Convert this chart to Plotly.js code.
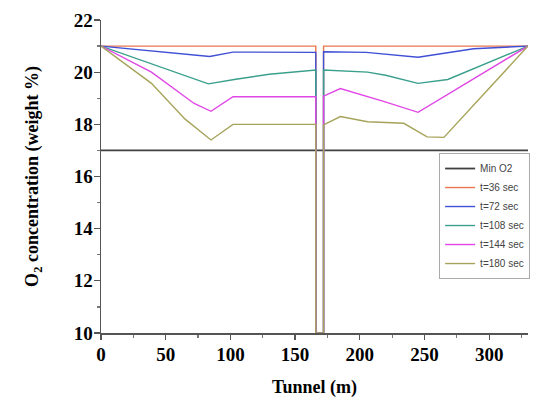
<!DOCTYPE html>
<html>
<head>
<meta charset="utf-8">
<script src="https://cdn.plot.ly/plotly-3.0.1.min.js"></script>
<style>html,body{margin:0;padding:0;background:#fff;}#chart{width:534px;height:403px;}</style>
</head>
<body>
<div id="chart"></div>
<script>
// Data
var seriesNames = ["Min O2", "t=36 sec", "t=72 sec", "t=108 sec", "t=144 sec", "t=180 sec"];

var xMin = [0, 330];
var yMin = [17, 17];

var x36 = [0, 166, 166, 172, 172, 330];
var y36 = [21, 21, 10, 10, 21, 21];

var x72 = [0, 84, 102, 166, 166, 172, 172, 205, 245, 288, 330];
var y72 = [21, 20.6, 20.77, 20.76, 10, 10, 20.78, 20.76, 20.57, 20.9, 21];

var x108 = [0, 83, 103, 130, 166, 166, 172, 172, 206, 220, 245, 268, 330];
var y108 = [21, 19.55, 19.72, 19.92, 20.08, 10, 10, 20.08, 20.0, 19.88, 19.57, 19.72, 21];

var x144 = [0, 39, 72, 85, 102, 166, 166, 172, 172, 185, 219, 245, 330];
var y144 = [21, 20.0, 18.8, 18.5, 19.06, 19.06, 10, 10, 19.08, 19.37, 18.87, 18.46, 21];

var x180 = [0, 39, 65, 85, 102, 166, 166, 172, 172, 185, 206, 234, 252, 265, 330];
var y180 = [21, 19.57, 18.2, 17.4, 18.0, 18.0, 10, 10, 17.98, 18.3, 18.1, 18.04, 17.52, 17.5, 21];

var colors = ["#404040", "#e8774f", "#3f4fd6", "#3a9f8c", "#e046e6", "#a6a35a"];

var xs = [xMin, x36, x72, x108, x144, x180];
var ys = [yMin, y36, y72, y108, y144, y180];

var traces = seriesNames.map(function (n, i) {
  return {
    x: xs[i], y: ys[i], name: n, mode: "lines", type: "scatter",
    line: { color: colors[i], width: i === 0 ? 1.8 : 1.4 }
  };
});

var serif = "Liberation Serif, Times New Roman, serif";
var titleFont = { family: serif, size: 18, color: "#000" };
var tickFont = { family: serif, size: 19, color: "#000", weight: "bold" };

var layout = {
  width: 534, height: 403,
  margin: { l: 101, r: 5, t: 20, b: 70 },
  paper_bgcolor: "#fff", plot_bgcolor: "#fff",
  showlegend: true,
  legend: {
    x: 0.79, y: 0.575, xanchor: "left", yanchor: "top",
    bgcolor: "#fff", bordercolor: "#aaa", borderwidth: 1,
    font: { family: "Liberation Sans, Arial, sans-serif", size: 10, color: "#444" },
    tracegroupgap: 0
  },
  xaxis: {
    range: [0, 330], tickvals: [0, 50, 100, 150, 200, 250, 300],
    showgrid: false, zeroline: false, showline: true, linecolor: "#555", linewidth: 1.5,
    ticks: "outside", ticklen: 5, tickcolor: "#555", tickwidth: 1.2,
    minor: { ticks: "outside", ticklen: 3, dtick: 25, tickcolor: "#777", showgrid: false },
    tickfont: tickFont, ticklabelstandoff: -1,
    title: { text: "<b>Tunnel (m)</b>", font: titleFont, standoff: 16 }
  },
  yaxis: {
    range: [10, 22], dtick: 2,
    showgrid: false, zeroline: false, showline: true, linecolor: "#555", linewidth: 1.5,
    ticks: "outside", ticklen: 6, tickcolor: "#555", tickwidth: 1.2,
    minor: { ticks: "outside", ticklen: 3, dtick: 1, tickcolor: "#777", showgrid: false },
    tickfont: tickFont, ticklabelstandoff: -3,
    title: { text: "<b>O<sub>2</sub> concentration (weight %)</b>", font: titleFont, standoff: 30 }
  }
};

Plotly.newPlot("chart", traces, layout, { displayModeBar: false, staticPlot: true });
</script>
</body>
</html>
